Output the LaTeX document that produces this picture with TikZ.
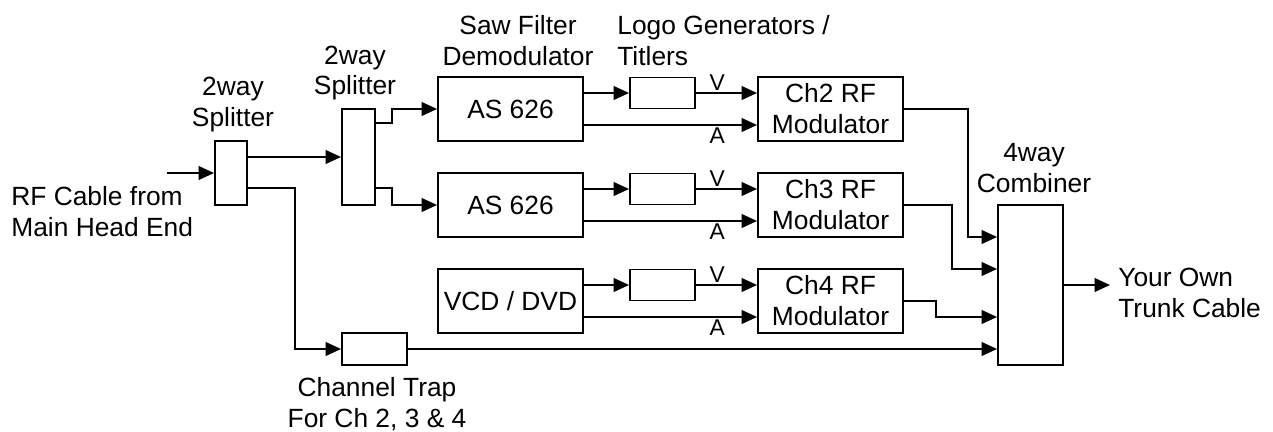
\documentclass[tikz,border=0pt]{standalone}
\usepackage{fontspec}
\setmainfont{Liberation Sans}
\usepackage{xcolor}
\usepackage{tikz}
\usetikzlibrary{arrows.meta}

\begin{document}
\begin{tikzpicture}[x=0.02cm, y=-0.02cm,
    font=\fontsize{15}{17.6}\selectfont,
    box/.style={draw=black, line width=1.1pt, inner sep=0pt, align=center},
    wire/.style={black, line width=1.1pt},
    arr/.style={wire, -{Triangle[length=8.8pt, width=7.8pt]}},
    lbl/.style={align=center, inner sep=0pt},
    va/.style={font=\fontsize{13}{15}\selectfont, inner sep=1pt}]
  \useasboundingbox (0,0) rectangle (1273,432);
  % boxes
  \node[box, minimum width=0.64cm, minimum height=1.28cm] (spl1) at (231,173) {};
  \node[box, minimum width=0.66cm, minimum height=1.92cm] (spl2) at (358.5,157) {};
  \node[box, minimum width=2.9cm, minimum height=1.28cm] (as1) at (510.5,109) {AS 626};
  \node[box, minimum width=2.9cm, minimum height=1.28cm] (as2) at (510.5,205) {AS 626};
  \node[box, minimum width=2.9cm, minimum height=1.28cm] (vcd) at (510.5,301) {VCD / DVD};
  \node[box, minimum width=1.3cm, minimum height=0.62cm] (logo1) at (662.5,93) {};
  \node[box, minimum width=1.3cm, minimum height=0.62cm] (logo2) at (662.5,189) {};
  \node[box, minimum width=1.3cm, minimum height=0.62cm] (logo3) at (662.5,285) {};
  \node[box, minimum width=2.9cm, minimum height=1.28cm] (mod1) at (830.5,109) {Ch2 RF\\Modulator};
  \node[box, minimum width=2.9cm, minimum height=1.28cm] (mod2) at (830.5,205) {Ch3 RF\\Modulator};
  \node[box, minimum width=2.9cm, minimum height=1.28cm] (mod3) at (830.5,301) {Ch4 RF\\Modulator};
  \node[box, minimum width=1.3cm, minimum height=0.64cm] (trap) at (374.5,349) {};
  \node[box, minimum width=1.3cm, minimum height=3.2cm] (comb) at (1030.5,285) {};
  % labels
  \node[lbl] (spl1lbl) at (233,104.5) {2way\\Splitter};
  \node[lbl] (spl2lbl) at (355,73) {2way\\Splitter};
  \node[lbl] (sawlbl) at (518,41) {Saw Filter\\Demodulator};
  \node[lbl, anchor=west, align=left] (logolbl) at (617,41) {Logo Generators /\\Titlers};
  \node[lbl] (comblbl) at (1034,168.5) {4way\\Combiner};
  \node[lbl] (traplbl) at (377,404) {Channel Trap\\For Ch 2, 3 \& 4};
  \node[lbl, anchor=west, align=left] (rflbl) at (11,212) {RF Cable from\\Main Head End};
  \node[lbl, anchor=west, align=left] (trunklbl) at (1118,292.5) {Your Own\\Trunk Cable};
  \coordinate (rfin) at (167,173);
  \coordinate (trunk) at (1110,285);
  % front end
  \draw[arr] (rfin) -- (spl1.west);
  \draw[arr] (spl2.west -| spl1.east) -- (spl2.west);
  \draw[arr] ([yshift=-0.3cm]spl1.east) -- ++(47,0) |- (trap.west);
  \draw[arr] ([yshift=0.68cm]spl2.east) -- ++(16,0) |- (as1.west);
  \draw[arr] ([yshift=-0.62cm]spl2.east) -- ++(16,0) |- (as2.west);
  % video and audio
  \draw[arr] (logo1.west -| as1.east) -- (logo1.west);
  \draw[arr] (logo2.west -| as2.east) -- (logo2.west);
  \draw[arr] (logo3.west -| vcd.east) -- (logo3.west);
  \draw[arr] (logo1.east) -- (mod1.west |- logo1.east) node[va, pos=0.35, above] {V};
  \draw[arr] (logo2.east) -- (mod2.west |- logo2.east) node[va, pos=0.35, above] {V};
  \draw[arr] (logo3.east) -- (mod3.west |- logo3.east) node[va, pos=0.35, above] {V};
  \draw[arr] ([yshift=-0.32cm]as1.east) -- ([yshift=-0.32cm]mod1.west) node[va, pos=0.77, below] {A};
  \draw[arr] ([yshift=-0.32cm]as2.east) -- ([yshift=-0.32cm]mod2.west) node[va, pos=0.77, below] {A};
  \draw[arr] ([yshift=-0.32cm]vcd.east) -- ([yshift=-0.32cm]mod3.west) node[va, pos=0.77, below] {A};
  % combiner
  \draw[arr] (mod1.east) -- ++(64,0) |- ([yshift=0.96cm]comb.west);
  \draw[arr] (mod2.east) -- ++(48,0) |- ([yshift=0.32cm]comb.west);
  \draw[arr] (mod3.east) -- ++(32,0) |- ([yshift=-0.64cm]comb.west);
  \draw[arr] (trap.east) -- (comb.west |- trap.east);
  \draw[arr] (comb.east) -- (trunk);
\end{tikzpicture}
\end{document}
